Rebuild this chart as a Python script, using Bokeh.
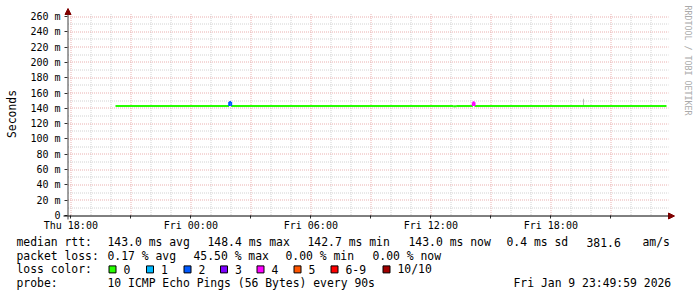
from datetime import datetime, timedelta
from math import pi, floor

from bokeh.plotting import figure
from bokeh.models import (Range1d, FixedTicker, DatetimeTickFormatter,
                          Arrow, NormalHead, ColumnDataSource)
from bokeh.core.properties import value
from bokeh.embed import file_html
from bokeh.resources import INLINE

# ---------------- data ----------------
graph_end = "2026-01-09 23:49:59"
graph_hours = 30

# median RTT step series (ms) with loss count per step
median_times = ["2026-01-08 20:14", "2026-01-09 01:55", "2026-01-09 02:01",
                "2026-01-09 13:07", "2026-01-09 13:16", "2026-01-09 14:06",
                "2026-01-09 14:11", "2026-01-09 23:47"]
median_rtt_ms = [143.0, 148.4, 143.0, 142.7, 143.0, 147.9, 143.0, 143.0]
median_loss = [0, 2, 0, 0, 0, 4, 0, 0]

# smoke (ping spread) spikes
smoke_times = ["2026-01-09 19:38"]
smoke_low_ms = [143.0]
smoke_high_ms = [152.5]

y_ticks = [0, 20, 40, 60, 80, 100, 120, 140, 160, 180, 200, 220, 240, 260]
y_tick_labels = ["0", "20 m", "40 m", "60 m", "80 m", "100 m", "120 m", "140 m",
                 "160 m", "180 m", "200 m", "220 m", "240 m", "260 m"]
x_tick_times = ["2026-01-08 18:00", "2026-01-09 00:00", "2026-01-09 06:00",
                "2026-01-09 12:00", "2026-01-09 18:00"]
x_minor_tick_times = ["2026-01-08 21:00", "2026-01-09 03:00", "2026-01-09 09:00",
                      "2026-01-09 15:00", "2026-01-09 21:00"]
x_tick_format = "%a %H:%M"

loss_labels = ["0", "1", "2", "3", "4", "5", "6-9", "10/10"]
loss_colors = ["#26ff00", "#00b8ff", "#0059ff", "#7e00ff", "#ff00ff",
               "#ff5500", "#ff0000", "#a10000"]

rtt_kinds = ["avg", "max", "min", "now"]
rtt_values = [143.0, 148.4, 142.7, 143.0]
rtt_sd = 0.4
am_per_s = 381.6
loss_kinds = ["avg", "max", "min", "now"]
loss_values = [0.17, 45.50, 0.00, 0.00]
probe_text = "10 ICMP Echo Pings (56 Bytes) every 90s"
stamp_text = "Fri Jan  9 23:49:59 2026"
y_title = "Seconds"
watermark = "RRDTOOL / TOBI OETIKER"

# ---------------- geometry ----------------
W, H = 697, 297
L, B = 67, 215          # graph-area left / bottom (canvas px)
PX_H = 20.0             # px per hour
PX_MS = 199.0 / 260.0   # px per ms

EPOCH = datetime(1970, 1, 1)


def ms(s):
    d = datetime.fromisoformat(s) if isinstance(s, str) else s
    return (d - EPOCH).total_seconds() * 1000.0


t_end = datetime.fromisoformat(graph_end)
t0 = t_end - timedelta(hours=graph_hours)
t0_ms = ms(t0)


def tx(px):
    return t0_ms + (px - L) / PX_H * 3600000.0


def vy(py):
    return (B - py) / PX_MS


def px_of_t(t):
    return L + (t - t0_ms) / 3600000.0 * PX_H


def py_of_v(v):
    return B - v * PX_MS


p = figure(width=W, height=H, x_axis_type="datetime",
           x_range=Range1d(tx(0), tx(W)), y_range=Range1d(vy(H), vy(0)),
           output_backend="svg", toolbar_location=None,
           min_border_left=0, min_border_right=0, min_border_top=0,
           min_border_bottom=0, outline_line_color=None)
p.grid.visible = False

# ---------------- grid (dotted, snapped to pixel centres) ----------------
GRAY = "#d2d2d2"
PINK = "#eab0b0"
grid_x0 = tx(67.5)
grid_x1 = tx(668)
grid_y0 = vy(214.5)
grid_y1 = vy(13)
first_hour = datetime.fromisoformat(x_tick_times[0])
vx_gray, vx_pink = [], []
h = 0
while ms(first_hour + timedelta(hours=h)) < grid_x1:
    v = ms(first_hour + timedelta(hours=h))
    snapped = tx(floor(px_of_t(v)) + 0.5)
    (vx_pink if h % 3 == 0 else vx_gray).append(snapped)
    h += 1
hy_gray = [vy(floor(py_of_v(v)) + 0.5) for v in range(10, 270, 10) if v % 20]
hy_pink = [vy(floor(py_of_v(v)) + 0.5) for v in range(20, 270, 20)]

for xs, col in ((vx_gray, GRAY), (vx_pink, PINK)):
    p.segment(x0=xs, y0=[grid_y0] * len(xs), x1=xs, y1=[grid_y1] * len(xs),
              line_color=col, line_width=1, line_dash="1 1")
for ys, col in ((hy_gray, GRAY), (hy_pink, PINK)):
    p.segment(x0=[grid_x0] * len(ys), y0=ys, x1=[grid_x1] * len(ys), y1=ys,
              line_color=col, line_width=1, line_dash="1 1")

# ---------------- smoke ----------------
p.vbar(x=[ms(t) for t in smoke_times], width=3 * 60000, bottom=smoke_low_ms,
       top=smoke_high_ms, fill_color="#bbbbbb", line_color=None)


# ---------------- median line ----------------
def loss_idx(n):
    if n <= 5:
        return n
    if n < 10:
        return 6
    return 7


mt = [ms(t) for t in median_times]
sx0, sy0, sx1, sy1, sc = [], [], [], [], []
for i in range(len(mt) - 1):
    sx0.append(mt[i]); sx1.append(mt[i + 1])
    sy0.append(median_rtt_ms[i]); sy1.append(median_rtt_ms[i])
    sc.append(loss_colors[loss_idx(median_loss[i])])
for i in range(1, len(mt) - 1):
    sx0.append(mt[i]); sx1.append(mt[i])
    sy0.append(median_rtt_ms[i - 1]); sy1.append(median_rtt_ms[i])
    sc.append(loss_colors[loss_idx(max(median_loss[i - 1], median_loss[i]))])
src = ColumnDataSource(dict(x0=sx0, y0=sy0, x1=sx1, y1=sy1, c=sc))
p.segment(x0="x0", y0="y0", x1="x1", y1="y1", line_color="c", line_width=2,
          source=src)

# ---------------- axes (placed on the graph area) ----------------
MONO = "DejaVu Sans Mono"
p.yaxis.fixed_location = t0_ms
p.xaxis.fixed_location = 0
p.yaxis.ticker = FixedTicker(ticks=y_ticks)
p.yaxis.major_label_overrides = dict(zip(y_ticks, y_tick_labels))
p.xaxis.ticker = FixedTicker(ticks=[ms(t) for t in x_tick_times],
                             minor_ticks=[ms(t) for t in x_minor_tick_times])
p.xaxis.formatter = DatetimeTickFormatter(
    microseconds=x_tick_format, milliseconds=x_tick_format, seconds=x_tick_format,
    minsec=x_tick_format, minutes=x_tick_format, hourmin=x_tick_format,
    hours=x_tick_format, days=x_tick_format, months=x_tick_format,
    years=x_tick_format)
for ax in (p.xaxis, p.yaxis):
    ax.axis_line_color = None
    ax.major_tick_in = 0
    ax.major_tick_out = 3
    ax.major_tick_line_color = "#303030"
    ax.minor_tick_line_color = None
    ax.major_label_text_font = MONO
    ax.major_label_text_font_size = "10px"
    ax.major_label_text_color = "black"
p.xaxis.minor_tick_line_color = "#303030"
p.xaxis.minor_tick_in = 0
p.xaxis.minor_tick_out = 3
p.yaxis.major_label_standoff = 4
p.xaxis.major_label_standoff = 1

ARROW = "#7f0000"
p.add_layout(Arrow(x_start=tx(63), y_start=vy(215.5), x_end=tx(674), y_end=vy(215.5),
                   line_color="black", line_width=1,
                   end=NormalHead(size=6, fill_color=ARROW, line_color=ARROW)))
p.add_layout(Arrow(x_start=tx(67.5), y_start=vy(219), x_end=tx(67.5), y_end=vy(8),
                   line_color="#404040", line_width=1,
                   end=NormalHead(size=6, fill_color=ARROW, line_color=ARROW)))


# ---------------- texts ----------------
def label(text, cx, cy, size="11.4px", color="black", angle=0.0, align="left"):
    p.text(x=[tx(cx)], y=[vy(cy)], text=[text], text_font=value(MONO),
           text_font_size=value(size), text_color=color, angle=angle,
           text_align=align, text_baseline="middle")


label(y_title, 11, 113.5, angle=pi / 2, align="center")
label(watermark, 687, 60, size="8.3px", color="#aaaaaa", angle=-pi / 2, align="center")

row_y = [241.5, 255.2, 268.9, 282.6]
# line 1
label("median rtt:", 16, row_y[0])
for xpos, v, k in zip([107, 207, 307, 408], rtt_values, rtt_kinds):
    label(f"{v:.1f} ms {k}", xpos, row_y[0])
label(f"{rtt_sd:.1f} ms sd", 506, row_y[0])
label(f"{am_per_s:.1f}", 586, row_y[0])
label("am/s", 642, row_y[0])
# line 2
label("packet loss:", 16, row_y[1])
for xpos, v, k in zip([107, 193, 285, 372], loss_values, loss_kinds):
    label(f"{v:.2f} % {k}", xpos, row_y[1])
# line 3
label("loss color:", 16, row_y[2])
sq_left = [108, 145.5, 183, 219.5, 256, 293, 330, 382]
p.quad(left=[tx(x + 0.5) for x in sq_left], right=[tx(x + 7.5) for x in sq_left],
       top=[vy(row_y[2] - 3.5)] * len(sq_left), bottom=[vy(row_y[2] + 3.5)] * len(sq_left),
       fill_color=loss_colors, line_color="black", line_width=1)
for xl, lab in zip(sq_left, loss_labels):
    label(lab, xl + 15, row_y[2])
# line 4
label("probe:", 16, row_y[3])
label(probe_text, 107, row_y[3])
label(stamp_text, 513, row_y[3])

open("out.html", "w").write(file_html(p, INLINE))
